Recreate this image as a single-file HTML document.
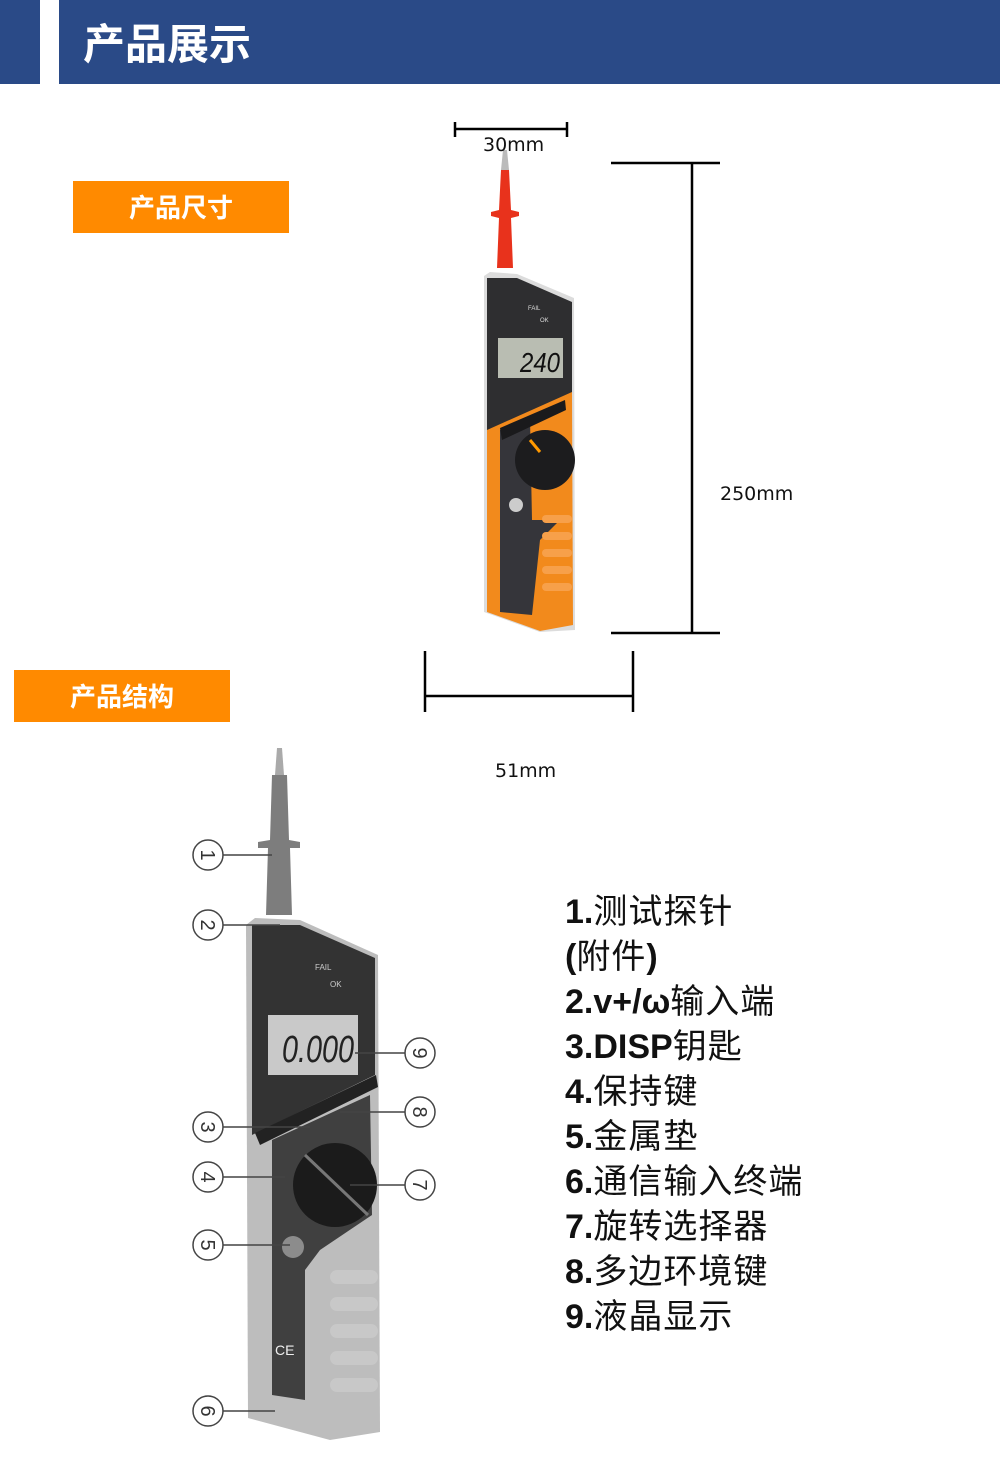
<!DOCTYPE html>
<html><head><meta charset="utf-8"><style>
body{margin:0;width:1000px;height:1472px;background:#fff;position:relative;overflow:hidden;font-family:"Liberation Sans","Noto Sans CJK SC",sans-serif}
.abs{position:absolute}
.hb{background:#2a4a87}
.tag{background:#ff8a00;color:#fff;font-weight:bold;font-size:26px;text-align:center;line-height:52px;width:216px;height:52px;font-family:"Noto Sans CJK SC",sans-serif}
.list{left:565px;top:890px;font-size:34px;line-height:45px;color:#111;font-family:"Liberation Sans","Noto Sans CJK SC",sans-serif;letter-spacing:1px}
.list b{font-family:"Liberation Sans",sans-serif;letter-spacing:0}
.dim{font-size:19px;color:#111;font-family:"DejaVu Sans",sans-serif}
</style></head><body>
<div class="abs hb" style="left:0;top:0;width:40px;height:84px"></div>
<div class="abs hb" style="left:59px;top:0;width:941px;height:84px"></div>
<div class="abs" style="left:83px;top:16px;color:#fff;font-size:42px;font-weight:bold;font-family:'Noto Sans CJK SC',sans-serif;line-height:52px">产品展示</div>
<div class="abs tag" style="left:73px;top:181px">产品尺寸</div>
<div class="abs tag" style="left:14px;top:670px">产品结构</div>

<svg class="abs" style="left:0;top:0" width="1000" height="1472">
<g stroke="#000" stroke-width="2.5" fill="none">
<line x1="455" y1="129" x2="567" y2="129"/><line x1="455" y1="122" x2="455" y2="137"/><line x1="567" y1="122" x2="567" y2="137"/>
<line x1="611" y1="163" x2="720" y2="163"/><line x1="611" y1="633" x2="720" y2="633"/><line x1="692" y1="163" x2="692" y2="633"/>
<line x1="425" y1="651" x2="425" y2="712"/><line x1="633" y1="651" x2="633" y2="712"/><line x1="425" y1="696" x2="633" y2="696"/>
</g>
<!-- device 1 -->
<polygon points="503,150 507,150 509,170 501,170" fill="#bbb"/>
<polygon points="501,170 509,170 511,210 519,212 519,216 511,218 513,268 497,268 499,218 491,216 491,212 499,210" fill="#e8321c"/>
<polygon points="484,276 490,272 517,274 574,298 575,630 540,632 484,612" fill="#dcdcdc"/>
<polygon points="487,278 517,278 572,302 572,395 487,440" fill="#2e2e30"/>
<polygon points="487,430 572,392 573,625 540,631 487,612" fill="#f28a1c"/>
<polygon points="500,430 530,418 532,520 560,520 540,540 532,615 500,612" fill="#35353a"/>
<rect x="498" y="338" width="65" height="40" fill="#b9bdb2"/>
<text x="520" y="372" font-size="28" font-family="Liberation Sans" fill="#111" font-style="italic" textLength="40" lengthAdjust="spacingAndGlyphs">240</text>
<polygon points="500,428 565,400 566,410 502,440" fill="#1a1a1c"/>
<circle cx="545" cy="460" r="30" fill="#1c1c1e"/>
<line x1="530" y1="440" x2="540" y2="452" stroke="#f90" stroke-width="3"/>
<circle cx="516" cy="505" r="7" fill="#ccc"/>
<text x="528" y="310" font-size="6" fill="#ddd">FAIL</text><text x="540" y="322" font-size="6" fill="#ddd">OK</text>
<g fill="#f7a04a"><rect x="542" y="515" width="30" height="8" rx="4"/><rect x="542" y="532" width="30" height="8" rx="4"/><rect x="542" y="549" width="30" height="8" rx="4"/><rect x="542" y="566" width="30" height="8" rx="4"/><rect x="542" y="583" width="30" height="8" rx="4"/></g>

<!-- device 2 -->
<polygon points="277,748 282,748 284,775 275,775" fill="#aaa"/>
<polygon points="272,775 287,775 289,840 300,842 300,848 290,848 292,915 266,915 268,848 258,848 258,842 270,840" fill="#7d7d7d"/>
<polygon points="246,925 255,918 300,920 378,955 380,1432 330,1440 248,1418" fill="#bdbdbd"/>
<polygon points="252,925 300,925 375,958 375,1075 252,1135" fill="#333"/>
<polygon points="272,1140 370,1095 372,1215 320,1250 305,1270 305,1400 272,1395" fill="#404040"/>
<rect x="268" y="1015" width="90" height="60" fill="#c9c9c9"/>
<text x="282" y="1062" font-size="38" font-family="Liberation Sans" fill="#222" font-style="italic" textLength="72" lengthAdjust="spacingAndGlyphs">0.000</text>
<polygon points="255,1133 376,1075 378,1087 260,1145" fill="#222"/>
<circle cx="335" cy="1185" r="42" fill="#1b1b1b"/>
<line x1="305" y1="1155" x2="368" y2="1215" stroke="#777" stroke-width="3"/>
<circle cx="293" cy="1247" r="11" fill="#8c8c8c"/>
<text x="315" y="970" font-size="8" fill="#ccc">FAIL</text><text x="330" y="987" font-size="8" fill="#ccc">OK</text>
<g fill="#c8c8c8"><rect x="330" y="1270" width="48" height="14" rx="7"/><rect x="330" y="1297" width="48" height="14" rx="7"/><rect x="330" y="1324" width="48" height="14" rx="7"/><rect x="330" y="1351" width="48" height="14" rx="7"/><rect x="330" y="1378" width="48" height="14" rx="7"/></g>
<text x="275" y="1355" font-size="14" fill="#eee">CE</text>

<g stroke="#444" stroke-width="1.5" fill="#fff">
<line x1="223" y1="855" x2="272" y2="855"/><line x1="223" y1="925" x2="280" y2="925"/>
<line x1="223" y1="1127" x2="310" y2="1127"/><line x1="223" y1="1177" x2="285" y2="1177"/>
<line x1="223" y1="1245" x2="290" y2="1245"/><line x1="223" y1="1411" x2="275" y2="1411"/>
<line x1="355" y1="1053" x2="405" y2="1053"/><line x1="340" y1="1112" x2="405" y2="1112"/><line x1="350" y1="1185" x2="405" y2="1185"/>
<circle cx="208" cy="855" r="15"/><circle cx="208" cy="925" r="15"/><circle cx="208" cy="1127" r="15"/><circle cx="208" cy="1177" r="15"/><circle cx="208" cy="1245" r="15"/><circle cx="208" cy="1411" r="15"/>
<circle cx="420" cy="1053" r="15"/><circle cx="420" cy="1112" r="15"/><circle cx="420" cy="1185" r="15"/>
</g>
<g font-size="20" fill="#333" text-anchor="middle" font-family="Liberation Sans">
<text transform="translate(208,855) rotate(90)" y="7">1</text>
<text transform="translate(208,925) rotate(90)" y="7">2</text>
<text transform="translate(208,1127) rotate(90)" y="7">3</text>
<text transform="translate(208,1177) rotate(90)" y="7">4</text>
<text transform="translate(208,1245) rotate(90)" y="7">5</text>
<text transform="translate(208,1411) rotate(90)" y="7">6</text>
<text transform="translate(420,1185) rotate(90)" y="7">7</text>
<text transform="translate(420,1112) rotate(90)" y="7">8</text>
<text transform="translate(420,1053) rotate(90)" y="7">9</text>
</g>
</svg>
<div class="abs dim" style="left:483px;top:134px">30mm</div>
<div class="abs dim" style="left:720px;top:483px">250mm</div>
<div class="abs dim" style="left:495px;top:760px">51mm</div>
<div class="abs list">
<div><b>1.</b>测试探针</div>
<div><b>(</b>附件<b>)</b></div>
<div><b>2.v+/ω</b>输入端</div>
<div><b>3.DISP</b>钥匙</div>
<div><b>4.</b>保持键</div>
<div><b>5.</b>金属垫</div>
<div><b>6.</b>通信输入终端</div>
<div><b>7.</b>旋转选择器</div>
<div><b>8.</b>多边环境键</div>
<div><b>9.</b>液晶显示</div>
</div>
</body></html>
